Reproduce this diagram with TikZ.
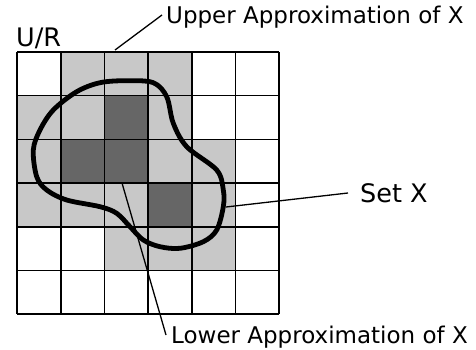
\documentclass[tikz,border=0pt]{standalone}
\usepackage{fontspec}
\setmainfont{DejaVu Sans}
\usetikzlibrary{calc}
\definecolor{rlight}{HTML}{C8C8C8}
\definecolor{rdark}{HTML}{666666}
\tikzset{
  lcell/.style={fill=rlight},
  dcell/.style={fill=rdark},
  gridline/.style={line width=1.6pt, black},
  setline/.style={line width=4.8pt, black, line join=round},
  biglbl/.style={inner sep=0pt, anchor=base west, font=\fontsize{25.5}{30}\selectfont},
  lbl/.style={inner sep=0pt, anchor=base west, font=\fontsize{23}{28}\selectfont},
  lead/.style={line width=1.3pt, black},
}

\begin{document}
\begin{tikzpicture}[x=1pt, y=-1pt]
  \useasboundingbox (0,0) rectangle (476,350);
  % approximation cells
  \foreach \c/\r in {1/0,2/0,3/0,0/1,1/1,3/1,0/2,3/2,4/2,0/3,1/3,2/3,4/3,2/4,3/4,4/4}
    \fill[lcell] ({17+43.7*\c},{52+43.7*\r}) rectangle +(43.7,43.7);
  \foreach \c/\r in {2/1,1/2,2/2,3/3}
    \fill[dcell] ({17+43.7*\c},{52+43.7*\r}) rectangle +(43.7,43.7);
  % grid
  \foreach \i in {0,...,6} {
    \draw[gridline] ({17+43.7*\i},52) -- ++(0,262.2);
    \draw[gridline] (17,{52+43.7*\i}) -- ++(262.2,0);
  }
  % set X
  \draw[setline] plot[smooth cycle, tension=0.55] coordinates {
    (76.7,91.7) (100,82.7) (126.7,80.7) (153.3,82.7) (166.7,96.7)
    (173.3,123.3) (186.7,146.7) (216.7,170) (223.3,190) (223.3,206.7)
    (216.7,230) (203.3,241.7) (180,248.3) (160,246.7) (143.3,240)
    (130,226.7) (116.7,213.3) (100,206.7) (66.7,200) (46.7,190)
    (36.7,176.7) (33.3,150) (40,130) (53.3,110)};

  \coordinate (uptip) at (115,50);
  \coordinate (lowtip) at (122,183);
  \coordinate (settip) at (226,207);

  \node[biglbl] (ur) at (16,47) {U/R};
  \node[lbl] (upper) at (166,24) {Upper Approximation of X};
  \node[lbl] (lower) at (171,343) {Lower Approximation of X};
  \node[biglbl] (setx) at (360,202) {Set X};

  \draw[lead] (uptip) -- ($(upper.base west)+(-4,-9)$);
  \draw[lead] (lowtip) -- ($(lower.base west)+(-5,-8)$);
  \draw[lead] (settip) -- ($(setx.base west)+(-12,-9)$);
\end{tikzpicture}
\end{document}
